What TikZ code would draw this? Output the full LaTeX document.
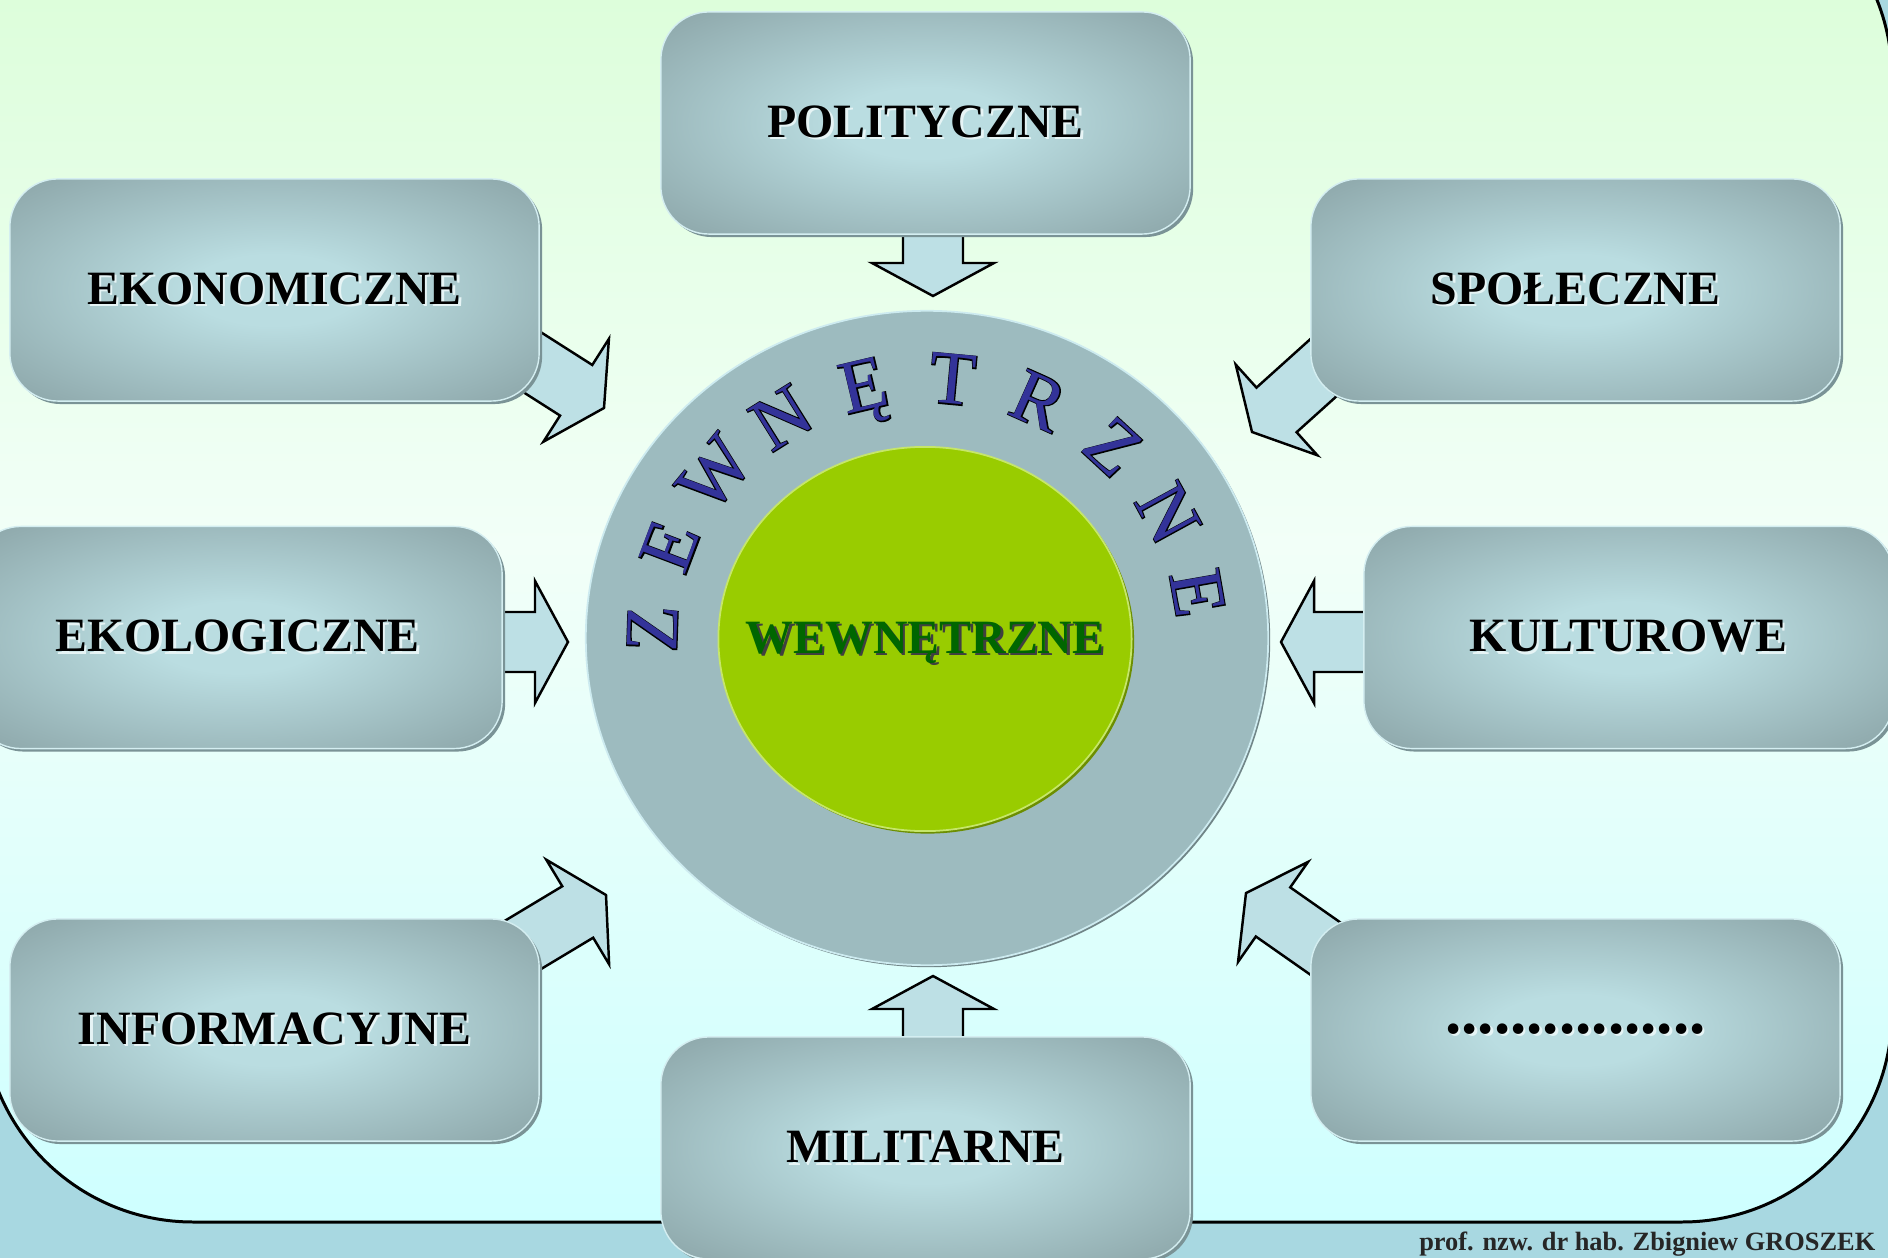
\documentclass[tikz,border=0pt]{standalone}
\usepackage{fontspec}
\setmainfont{Liberation Serif}
\newfontfamily\ringoutline[FakeBold=2.5]{Liberation Serif}
\usetikzlibrary{shapes.geometric, shadows}

\definecolor{outerbg}{HTML}{A8D8E1}
\definecolor{bgtop}{HTML}{D8FED4}
\definecolor{bgmid}{HTML}{F2FFF8}
\definecolor{bgbot}{HTML}{CEFFFF}
\definecolor{boxlight}{HTML}{BADDE1}
\definecolor{boxdark}{HTML}{8EA8AB}
\definecolor{boxshade}{HTML}{7A9396}
\definecolor{boxrim}{HTML}{D4EEF1}
\definecolor{arrowfill}{HTML}{BDE0E5}
\definecolor{ringlight}{HTML}{9DBBBF}
\definecolor{ringdark}{HTML}{8CA6A9}
\definecolor{ringrim}{HTML}{CDEBF0}
\definecolor{corefill}{HTML}{99CC00}
\definecolor{coredark}{HTML}{6C8E00}
\definecolor{corerim}{HTML}{C6E66A}
\definecolor{coretext}{HTML}{006600}
\definecolor{ringtext}{HTML}{333399}
\definecolor{halo}{HTML}{E6F4F5}

\pgfdeclareradialshading{boxglow}{\pgfpoint{0bp}{0bp}}{color(0bp)=(boxlight); color(8bp)=(boxlight); color(34bp)=(boxdark); color(50bp)=(boxdark)}
\pgfdeclareradialshading{ringglow}{\pgfpoint{0bp}{0bp}}{color(0bp)=(ringlight); color(30bp)=(ringlight); color(50bp)=(ringdark)}

% text with a copy shifted down-right behind it
\newcommand{\shadowed}[2]{\makebox[0pt][l]{\kern0.025cm\raisebox{-0.025cm}{\textcolor{#1}{#2}}}#2}
% letter with a black outline
\newcommand{\outlined}[1]{\makebox[0pt][l]{\ringoutline\textcolor{black}{#1}}#1}

\tikzset{
  factorbox/.style={rounded corners=0.48cm, minimum width=5.29cm, minimum height=2.22cm,
    shading=boxglow, draw=boxrim, line width=0.4pt, inner sep=0pt,
    drop shadow={shadow xshift=0.03cm, shadow yshift=-0.03cm, fill=boxshade, opacity=1},
    font=\fontsize{13.6}{16}\selectfont\bfseries},
  arrowbody/.style={fill=arrowfill, draw=black, line width=0.7pt, line join=miter},
  pics/blkarrow/.style={code={
    \draw[arrowbody] (0,0) -- (-33,61) -- (-33,30) -- (-#1,30) -- (-#1,-30) -- (-33,-30) -- (-33,-61) -- cycle;}},
  ringletter/.style={font=\fontsize{21.5}{22}\selectfont, text=ringtext, inner sep=0pt,
    text height=0.5cm, text depth=0pt},
}

\begin{document}
\begin{tikzpicture}[x=0.01cm, y=-0.01cm]
  \useasboundingbox (0,0) rectangle (1888,1258);
  \fill[outerbg] (0,0) rectangle (1888,1258);

  % rounded frame
  \draw[line width=0.85pt, rounded corners=2.1cm, top color=bgtop, bottom color=bgbot, middle color=bgmid]
    (-17,-132) rectangle (1892,1222);

  % block arrows towards the ring
  \pic[rotate=-90] at (933,296) {blkarrow=80};
  \pic[rotate=90] at (933,976) {blkarrow=80};
  \pic[rotate=0] at (568,642) {blkarrow=80};
  \pic[rotate=180] at (1281,642) {blkarrow=100};
  \pic[rotate=-32.5] at (604,408) {blkarrow=120};
  \pic[rotate=-138] at (1252,432) {blkarrow=120};
  \pic[rotate=31] at (606,895) {blkarrow=120};
  \pic[rotate=145] at (1246,893) {blkarrow=120};

  % factor boxes
  \node[factorbox] (polit) at (925.5,123) {\shadowed{halo}{POLITYCZNE}};
  \node[factorbox] (ekon) at (274.5,290) {\shadowed{halo}{EKONOMICZNE}};
  \node[factorbox] (spol) at (1575.5,290) {\shadowed{halo}{SPOŁECZNE}};
  \node[factorbox] (ekol) at (237.5,637.5) {\shadowed{halo}{EKOLOGICZNE}};
  \node[factorbox] (kult) at (1628.5,637.5) {\shadowed{halo}{KULTUROWE}};
  \node[factorbox] (info) at (274.5,1030) {\shadowed{halo}{INFORMACYJNE}};
  \node[factorbox, font=\fontsize{18.5}{20}\selectfont\bfseries] (other) at (1575.5,1030) {\shadowed{halo}{................}};
  \node[factorbox] (milit) at (925.5,1148) {\shadowed{halo}{MILITARNE}};

  % outer ring and core
  \node[ellipse, minimum width=6.82cm, minimum height=6.54cm, shading=ringglow, draw=ringrim, line width=0.5pt,
    drop shadow={shadow xshift=0.02cm, shadow yshift=-0.02cm, fill=ringdark!80!black, opacity=1}] (ring) at (927,638) {};
  \node[ellipse, minimum width=4.13cm, minimum height=3.84cm, inner sep=0pt, fill=corefill, draw=corerim, line width=0.5pt,
    drop shadow={shadow xshift=0.025cm, shadow yshift=-0.025cm, fill=coredark, opacity=1}] (core) at (925,639) {};
  \node[text=coretext, font=\fontsize{13.6}{16}\selectfont\bfseries] (coretxt) at (925,644) {\shadowed{black!75}{WEWNĘTRZNE}};

  % curved caption on the ring
  \foreach \ch [count=\i from 0, evaluate=\i as \a using 178-18.67*\i] in {Z,E,W,N,Ę,T,R,Z,N,E}
    \node[ringletter, rotate=\a-90] at ({927+275*cos(\a)},{638-260*sin(\a)}) {\outlined{\ch}};

  \node[anchor=east, inner sep=0pt, text=black!85, font=\fontsize{7.5}{9}\selectfont\bfseries] (author)
    at (1876,1244) {prof. nzw. dr hab. Zbigniew GROSZEK};
\end{tikzpicture}
\end{document}
